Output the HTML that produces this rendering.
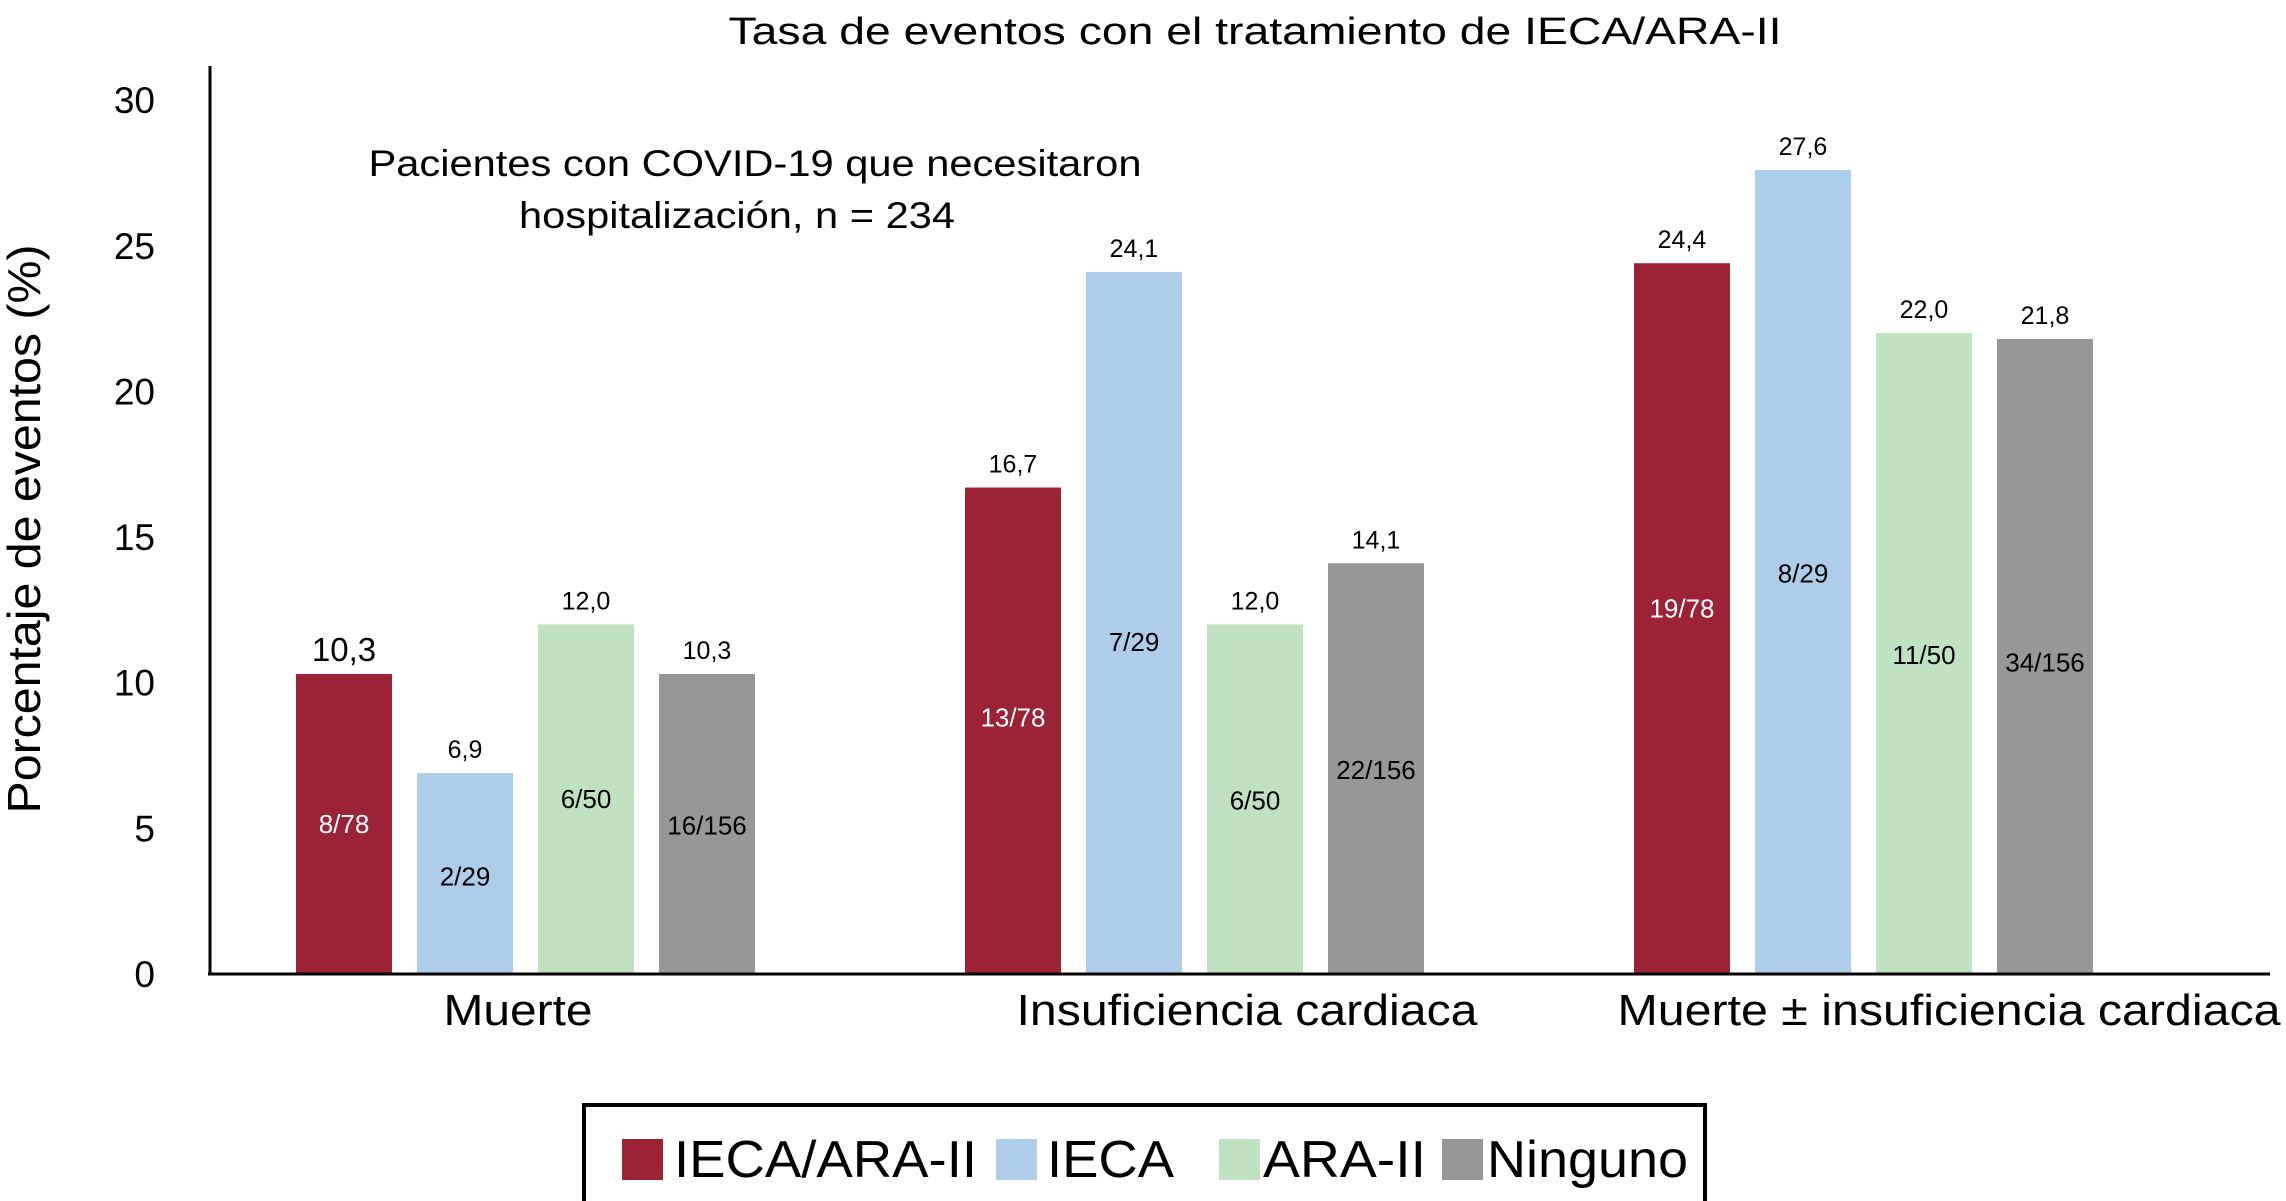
<!DOCTYPE html>
<html><head><meta charset="utf-8"><style>
body{margin:0;background:#fff;}
svg{display:block;font-family:"Liberation Sans",sans-serif;}
</style></head><body>
<svg id="chart" width="2286" height="1201" viewBox="0 0 2286 1201">
<text x="1255" y="44" font-size="38" text-anchor="middle" textLength="1053" lengthAdjust="spacingAndGlyphs">Tasa de eventos con el tratamiento de IECA/ARA-II</text>
<text x="755" y="176" font-size="37" text-anchor="middle" textLength="773" lengthAdjust="spacingAndGlyphs">Pacientes con COVID-19 que necesitaron</text>
<text x="737" y="228" font-size="37" text-anchor="middle" textLength="436" lengthAdjust="spacingAndGlyphs">hospitalización, n = 234</text>
<text transform="translate(40,529) rotate(-90)" font-size="46" text-anchor="middle" textLength="569" lengthAdjust="spacingAndGlyphs">Porcentaje de eventos (%)</text>
<g id="yticks"></g>
<g id="bars"></g>
<line x1="210" y1="66" x2="210" y2="974" stroke="#000" stroke-width="3"/>
<line x1="208" y1="974" x2="2270" y2="974" stroke="#000" stroke-width="3"/>
<g>
<rect x="584" y="1105" width="1121" height="100" fill="#fff" stroke="#000" stroke-width="4"/>
<rect x="622" y="1139" width="41" height="41" fill="#9b2335"/>
<text x="674" y="1177" font-size="52" textLength="303" lengthAdjust="spacingAndGlyphs">IECA/ARA-II</text>
<rect x="996" y="1139" width="41" height="41" fill="#aecde9"/>
<text x="1047" y="1177" font-size="52" textLength="127" lengthAdjust="spacingAndGlyphs">IECA</text>
<rect x="1219" y="1139" width="41" height="41" fill="#bfe2c1"/>
<text x="1263" y="1177" font-size="52" textLength="163" lengthAdjust="spacingAndGlyphs">ARA-II</text>
<rect x="1442" y="1139" width="41" height="41" fill="#979797"/>
<text x="1487" y="1177" font-size="52" textLength="201" lengthAdjust="spacingAndGlyphs">Ninguno</text>
</g>
</svg>
<script>
const categories=["Muerte","Insuficiencia cardiaca","Muerte ± insuficiencia cardiaca"];
const seriesNames=["IECA/ARA-II","IECA","ARA-II","Ninguno"];
const valuesIecaAra=[10.3,16.7,24.4];
const valuesIeca=[6.9,24.1,27.6];
const valuesAra=[12.0,12.0,22.0];
const valuesNinguno=[10.3,14.1,21.8];
const fracIecaAra=["8/78","13/78","19/78"];
const fracIeca=["2/29","7/29","8/29"];
const fracAra=["6/50","6/50","11/50"];
const fracNinguno=["16/156","22/156","34/156"];
const fracPosIecaAra=[5.15,8.8,12.55];
const fracPosIeca=[3.35,11.4,13.75];
const fracPosAra=[6.0,5.95,10.95];
const fracPosNinguno=[5.1,7.0,10.7];
const yTicks=[0,5,10,15,20,25,30];

const NS="http://www.w3.org/2000/svg";
const y0=974, pxPerUnit=29.13;
function yScale(v){return y0-v*pxPerUnit;}
function groupX(i){return 296+i*669;}
const barW=96, step=121;
const catLabelX=[518,1247,1949];
const catLabelLen=[149,461,663];
const colors=["#9b2335","#aecde9","#bfe2c1","#979797"];
const textCol=["#fff","#000","#000","#000"];
const allVals=[valuesIecaAra,valuesIeca,valuesAra,valuesNinguno];
const allFrac=[fracIecaAra,fracIeca,fracAra,fracNinguno];
const allFracPos=[fracPosIecaAra,fracPosIeca,fracPosAra,fracPosNinguno];
const slug=["ieca-ara","ieca","ara","ninguno"];
function mk(tag,attrs,parent,txt){const e=document.createElementNS(NS,tag);for(const k in attrs)e.setAttribute(k,attrs[k]);if(txt!==undefined)e.textContent=txt;parent.appendChild(e);return e;}
const yt=document.getElementById('yticks');
yTicks.forEach(t=>{
  const e=mk('text',{x:155,y:yScale(t)+13,'font-size':37,'text-anchor':'end'},yt,String(t));
  
  
});
const bg=document.getElementById('bars');
categories.forEach((c,i)=>{
  const gx=groupX(i);
  allVals.forEach((vals,s)=>{
    const v=vals[i], x=gx+s*step, top=yScale(v);
    const r=mk('rect',{x:x,y:top,width:barW,height:y0-top,fill:colors[s]},bg);
    
    
    const big=(i===0&&s===0);
    const vl=mk('text',{x:x+barW/2,y:top-(big?13:15),'font-size':big?33:25,'text-anchor':'middle'},bg,v.toFixed(1).replace('.',','));
    
    
    const fl=mk('text',{x:x+barW/2,y:yScale(allFracPos[s][i])+9,'font-size':26,'text-anchor':'middle',fill:textCol[s]},bg,allFrac[s][i]);
    
    
  });
  const cl=mk('text',{x:catLabelX[i],y:1025,'font-size':44,'text-anchor':'middle',textLength:catLabelLen[i],lengthAdjust:'spacingAndGlyphs'},bg,c);
  
  
});
</script>
</body></html>
